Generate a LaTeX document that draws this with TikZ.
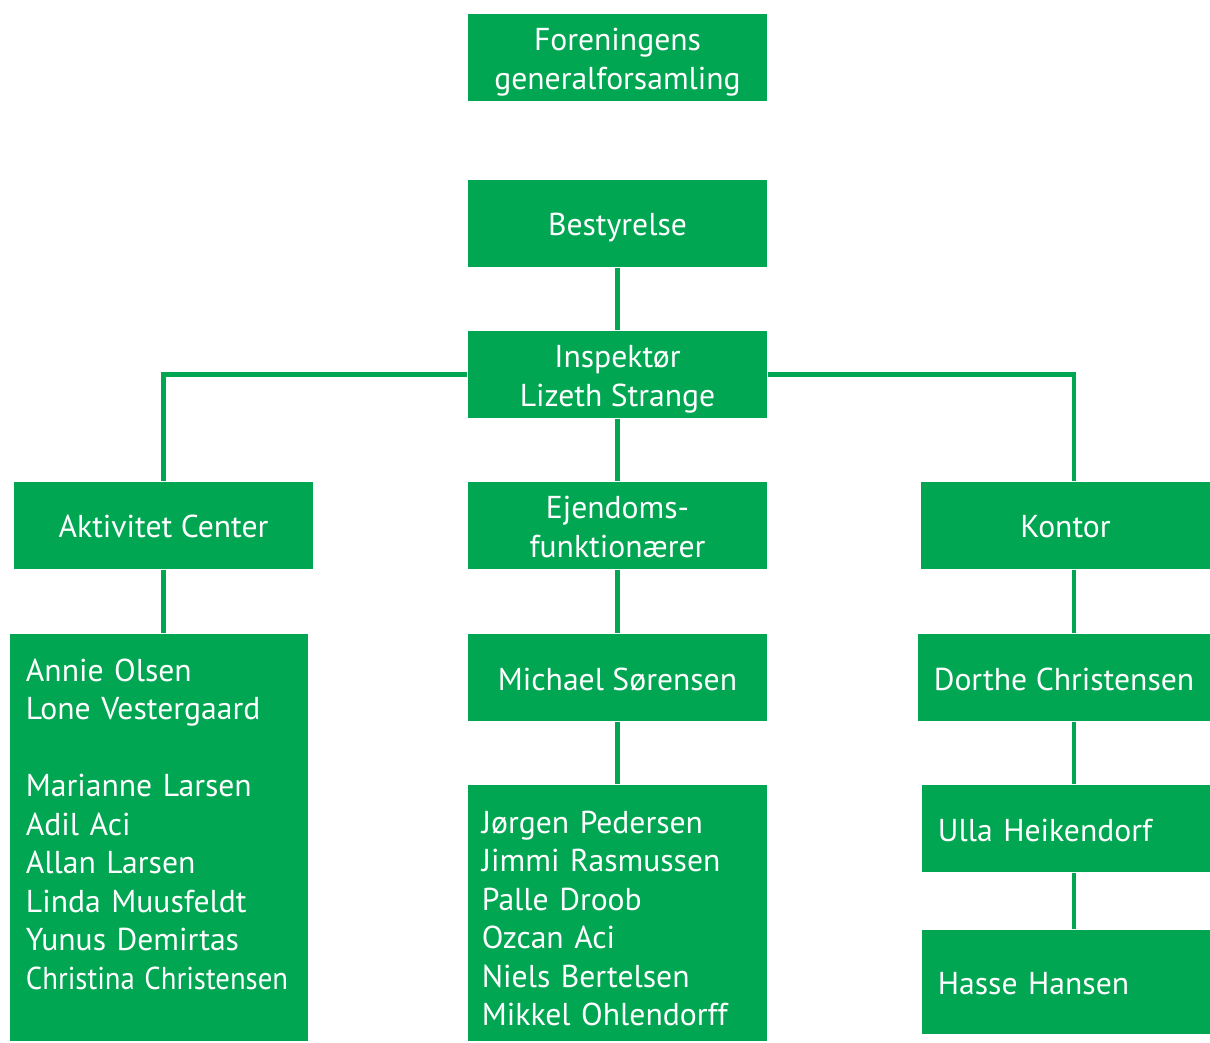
\documentclass[tikz,border=0pt]{standalone}
\usepackage{fontspec}
\setmainfont{PT Sans}
\usepackage{xcolor}
\usepackage{graphicx}
\usetikzlibrary{positioning, calc}
\definecolor{groen}{RGB}{0,166,81}
\tikzset{
  boks/.style={fill=groen, text=white, minimum height=0.87cm, minimum width=2.99cm, align=center, inner sep=0pt,
    font=\fontsize{9}{10.95}\selectfont, text height=7.1pt, text depth=0pt},
  tolinjer/.style={boks, text height=18.05pt},
  venstre/.style={boks, align=left},
  streg/.style={draw=groen, line width=1.4pt},
}
\begin{document}
\begin{tikzpicture}[x=0.01cm, y=-0.01cm]
  \useasboundingbox (0,0) rectangle (1210,1042);
  % toppen
  \node[tolinjer] (gen) at (617.5,57.5) {Foreningens\\generalforsamling};
  \node[boks] (best) at (617.5,223.5) {Bestyrelse};
  \node[tolinjer] (insp) at (617.5,374.5) {Inspektør\\Lizeth Strange};
  % afdelinger
  \node[boks] (akt) at (163.5,525.5) {Aktivitet Center};
  \node[tolinjer] (ejd) at (617.5,525.5) {Ejendoms-\\funktionærer};
  \node[boks, minimum width=2.89cm] (kont) at (1065.5,525.5) {Kontor};
  % personer
  \node[venstre, minimum width=2.98cm, minimum height=4.07cm, text width=2.66cm, text depth=96.1pt] (akthold) at (159,837.5)
    {Annie Olsen\\Lone Vestergaard\\[10.95pt]Marianne Larsen\\Adil Aci\\Allan Larsen\\Linda Muusfeldt\\Yunus Demirtas\\\resizebox{2.62cm}{\height}{Christina Christensen}};
  \node[boks] (michael) at (617.5,677.5) {Michael Sørensen};
  \node[venstre, minimum height=2.56cm, text width=2.71cm, text depth=52.6pt] (ejdhold) at (617.5,913)
    {Jørgen Pedersen\\Jimmi Rasmussen\\Palle Droob\\Ozcan Aci\\Niels Bertelsen\\Mikkel Ohlendorff};
  \node[boks, minimum width=2.92cm] (dorthe) at (1064,677.5) {Dorthe Christensen};
  \node[venstre, minimum width=2.88cm, text width=2.56cm] (ulla) at (1066,828.5) {Ulla Heikendorf};
  \node[venstre, minimum width=2.88cm, minimum height=1.04cm, text width=2.56cm] (hasse) at (1066,982) {Hasse Hansen};
  % forbindelser
  \coordinate (hx) at (1074,374.5);
  \draw[streg] (best) -- (insp);
  \draw[streg] (insp.west) -- (akt.north |- insp.west) -- (akt.north);
  \draw[streg] (insp.east) -- (hx) -- (hx |- kont.north);
  \draw[streg] (insp) -- (ejd);
  \draw[streg] (akt) -- (akt.south |- akthold.north);
  \draw[streg] (ejd) -- (michael);
  \draw[streg] (michael) -- (ejdhold);
  \foreach \a/\b in {kont/dorthe, dorthe/ulla, ulla/hasse} \draw[streg] (\a.south -| hx) -- (\b.north -| hx);
\end{tikzpicture}
\end{document}
